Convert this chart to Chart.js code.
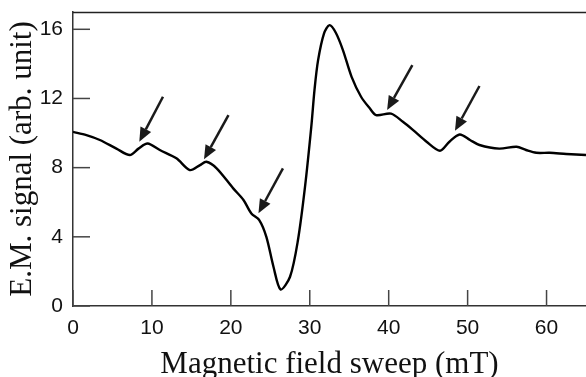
<!DOCTYPE html>
<html><head><meta charset="utf-8">
<script src="https://cdn.jsdelivr.net/npm/chart.js@4/dist/chart.umd.min.js"></script>
<style>html,body{margin:0;padding:0;background:#fff;}canvas{display:block;}</style>
</head><body>
<canvas id="c" width="586" height="377"></canvas>
<script>
// Magnetic field sweep (mT)
const fieldX = [0, 1.7, 3.4, 5.5, 7.2, 8.3, 9.45, 11.0, 13.1, 14.8, 16.1, 16.9, 18.2, 20.3, 21.6, 22.6, 23.6, 24.5, 25.4, 26.3, 27.5, 28.5, 29.4, 30.2, 30.6, 31.05, 31.8, 32.5, 33.3, 34.2, 35.3, 36.5, 37.6, 38.4, 40.3, 41.8, 43.1, 44.8, 46.5, 47.7, 49.0, 50.3, 51.5, 54.0, 56.2, 57.4, 58.7, 60.4, 62.5, 65.0];
// E.M. signal (arb. unit)
const signalY = [10.07, 9.88, 9.60, 9.1, 8.73, 9.1, 9.4, 9.02, 8.54, 7.86, 8.15, 8.34, 7.96, 6.80, 6.13, 5.35, 4.97, 4.0, 2.27, 0.96, 1.69, 3.8, 6.9, 10.4, 12.5, 14.2, 15.75, 16.24, 15.8, 14.8, 13.25, 12.1, 11.43, 11.04, 11.12, 10.65, 10.17, 9.5, 8.98, 9.5, 9.92, 9.6, 9.31, 9.1, 9.21, 9.02, 8.86, 8.86, 8.79, 8.73];
const xTicks = [0, 10, 20, 30, 40, 50, 60];
const yTicks = [0, 4, 8, 12, 16];
// arrows pointing at features (data units)
const arrowTailX = [11.4, 19.7, 26.6, 43.0, 51.5];
const arrowTailY = [12.1, 11.04, 7.96, 13.93, 12.72];
const arrowTipX = [8.4, 16.6, 23.5, 39.8, 48.4];
const arrowTipY = [9.5, 8.48, 5.36, 11.33, 10.13];

const points = fieldX.map((x, i) => ({x, y: signalY[i]}));

const decor = {
  id: 'decor',
  afterDatasetsDraw(chart) {
    const {ctx, chartArea: a, scales: {x, y}} = chart;
    ctx.save();
    // top border
    ctx.strokeStyle = '#222';
    ctx.lineWidth = 1.5;
    ctx.beginPath();
    ctx.moveTo(a.left, a.top + 0.5);
    ctx.lineTo(chart.width, a.top + 0.5);
    ctx.stroke();
    // inward ticks
    ctx.strokeStyle = '#444';
    ctx.lineWidth = 1.5;
    x.ticks.forEach(t => {
      const px = x.getPixelForValue(t.value);
      ctx.beginPath(); ctx.moveTo(px, a.bottom); ctx.lineTo(px, a.bottom - 16); ctx.stroke();
    });
    y.ticks.forEach(t => {
      const py = y.getPixelForValue(t.value);
      ctx.beginPath(); ctx.moveTo(a.left, py); ctx.lineTo(a.left + 17, py); ctx.stroke();
    });
    // arrows
    ctx.strokeStyle = '#1a1a1a';
    ctx.fillStyle = '#1a1a1a';
    ctx.lineWidth = 2.5;
    for (let i = 0; i < arrowTailX.length; i++) {
      const x0 = x.getPixelForValue(arrowTailX[i]), y0 = y.getPixelForValue(arrowTailY[i]);
      const x1 = x.getPixelForValue(arrowTipX[i]), y1 = y.getPixelForValue(arrowTipY[i]);
      const ang = Math.atan2(y1 - y0, x1 - x0);
      const hl = 14, hw = 6;
      const bx = x1 - hl * Math.cos(ang), by = y1 - hl * Math.sin(ang);
      ctx.beginPath(); ctx.moveTo(x0, y0); ctx.lineTo(bx, by); ctx.stroke();
      ctx.beginPath();
      ctx.moveTo(x1, y1);
      ctx.lineTo(bx + hw * Math.sin(ang), by - hw * Math.cos(ang));
      ctx.lineTo(bx - hw * Math.sin(ang), by + hw * Math.cos(ang));
      ctx.closePath(); ctx.fill();
    }
    ctx.restore();
  }
};

new Chart(document.getElementById('c'), {
  type: 'line',
  data: {
    datasets: [{
      data: points,
      borderColor: '#000',
      borderWidth: 2.4,
      pointRadius: 0,
      tension: 0.3,
      fill: false
    }]
  },
  options: {
    responsive: false,
    devicePixelRatio: 1,
    animation: false,
    layout: {padding: {top: 12, right: 0, left: 0, bottom: 0}},
    plugins: {legend: {display: false}, tooltip: {enabled: false}},
    scales: {
      x: {
        type: 'linear', min: 0, max: 65,
        afterBuildTicks: s => { s.ticks = xTicks.map(v => ({value: v})); },
        afterFit: s => { s.height = 71; s.paddingLeft = 0; s.paddingRight = 0; },
        grid: {display: true, drawOnChartArea: false, drawTicks: false},
        border: {display: true, color: '#333', width: 1.5},
        ticks: {padding: 10, color: '#111', font: {family: 'Liberation Sans', size: 21}},
        title: {display: true, text: 'Magnetic field sweep (mT)', color: '#111',
          font: {family: 'Liberation Serif', size: 31, lineHeight: 0.8}, padding: {top: 0, bottom: 0}}
      },
      y: {
        type: 'linear', min: 0, max: 17,
        afterBuildTicks: s => { s.ticks = yTicks.map(v => ({value: v})); },
        afterFit: s => { s.width = 73; s.paddingTop = 0; s.paddingBottom = 0; },
        grid: {display: true, drawOnChartArea: false, drawTicks: false},
        border: {display: true, color: '#333', width: 1.5},
        ticks: {padding: 10, color: '#111', font: {family: 'Liberation Sans', size: 21}},
        title: {display: true, text: 'E.M. signal (arb. unit)', color: '#111',
          font: {family: 'Liberation Serif', size: 31, lineHeight: 1}, padding: {top: 7, bottom: 0}}
      }
    }
  },
  plugins: [decor]
});
</script>
</body></html>
